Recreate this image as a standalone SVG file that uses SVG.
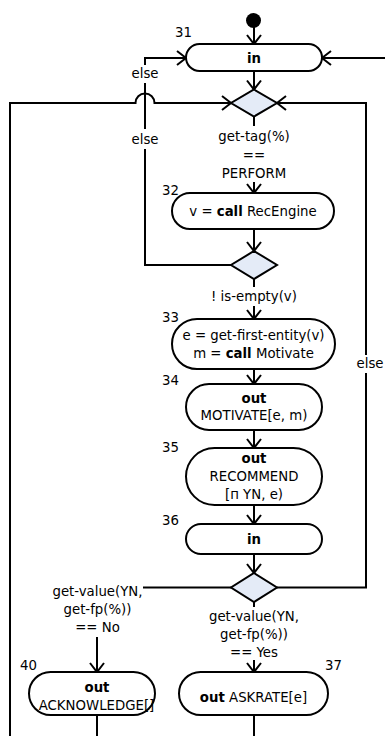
<svg xmlns="http://www.w3.org/2000/svg" width="385" height="736" viewBox="0 0 385 736">
<style>
text{font-family:"DejaVu Sans","Liberation Sans",sans-serif;font-size:13.3px;fill:#000}
.c{text-anchor:middle}
.b{font-weight:bold}
.node{fill:#fff;stroke:#000;stroke-width:2}
.dec{fill:#e4ebf7;stroke:#000;stroke-width:2}
.e{fill:none;stroke:#000;stroke-width:2}
.ea{fill:none;stroke:#000;stroke-width:2;marker-end:url(#arr)}
</style>
<defs>
<marker id="arr" markerUnits="userSpaceOnUse" orient="auto" overflow="visible" markerWidth="20" markerHeight="20" refX="0" refY="0">
<path d="M-9,-7 L0,0 L-9,7" fill="none" stroke="#000" stroke-width="2"/>
</marker>
</defs>
<g id="connectors">
<path class="ea" d="M254,27 V44"/>
<path class="ea" d="M385,58 H322"/>
<path class="ea" d="M254,71 V89.5"/>
<path class="e" d="M254,116.5 V126"/>
<path class="ea" d="M254,182 V193"/>
<path class="ea" d="M254,229 V251"/>
<path class="e" d="M231,265 H145 V149"/>
<path class="e" d="M145,129 V83"/>
<path class="ea" d="M145,65 V58 H186"/>
<path class="ea" d="M10,736 V103 H135.5 A9.5,9.5 0 0 1 154.5,103 H231"/>
<path class="e" d="M277,587.5 H366 V373"/>
<path class="ea" d="M366,355 V103 H277"/>
<path class="e" d="M254,279 V287"/>
<path class="ea" d="M254,306 V319"/>
<path class="ea" d="M254,369 V384"/>
<path class="ea" d="M254,430 V448"/>
<path class="ea" d="M254,505 V524"/>
<path class="ea" d="M254,554 V573"/>
<path class="e" d="M231,587.5 H143"/>
<path class="ea" d="M97,637 V672"/>
<path class="e" d="M254,602 V607"/>
<path class="ea" d="M254,660 V672"/>
<path class="e" d="M97,715 V736"/>
<path class="e" d="M254,715 V736"/>
</g>
<g id="labels">
<text class="c" x="145" y="78">else</text>
<text class="c" x="145" y="144">else</text>
<text class="c" x="370" y="368">else</text>
<text class="c" x="254" y="141">get-tag(%)</text>
<text class="c" x="254" y="159.5">==</text>
<text class="c" x="254" y="178">PERFORM</text>
<text class="c" x="254" y="301">! is-empty(v)</text>
<text class="c" x="97.5" y="596">get-value(YN,</text>
<text class="c" x="97.5" y="614">get-fp(%))</text>
<text class="c" x="97.5" y="632">== No</text>
<text class="c" x="254" y="621">get-value(YN,</text>
<text class="c" x="254" y="639">get-fp(%))</text>
<text class="c" x="254" y="657">== Yes</text>
</g>
<g id="start"><circle cx="253.5" cy="20.5" r="7.5" fill="#000"/></g>
<g id="n31">
<rect class="node" x="186" y="44" width="136" height="27" rx="13.5"/>
<text x="175" y="37">31</text>
<text class="c b" x="254" y="62.5">in</text>
</g>
<g id="d1"><path class="dec" d="M254,89.5 L277,103 L254,116.5 L231,103 Z"/></g>
<g id="n32">
<rect class="node" x="172" y="193" width="162" height="36" rx="18"/>
<text x="162" y="195">32</text>
<text class="c" x="253" y="216">v = <tspan class="b">call</tspan> RecEngine</text>
</g>
<g id="d2"><path class="dec" d="M254,251 L277,265 L254,279 L231,265 Z"/></g>
<g id="n33">
<rect class="node" x="172" y="319" width="163" height="50" rx="25"/>
<text x="162" y="322">33</text>
<text class="c" x="253.5" y="340">e = get-first-entity(v)</text>
<text class="c" x="253.5" y="358">m = <tspan class="b">call</tspan> Motivate</text>
</g>
<g id="n34">
<rect class="node" x="186" y="384" width="136" height="46" rx="23"/>
<text x="162" y="385">34</text>
<text class="c b" x="254" y="403">out</text>
<text class="c" x="254" y="420">MOTIVATE[e, m)</text>
</g>
<g id="n35">
<rect class="node" x="186" y="448" width="136" height="57" rx="28.5"/>
<text x="162" y="452">35</text>
<text class="c b" x="254" y="463">out</text>
<text class="c" x="254" y="481">RECOMMEND</text>
<text class="c" x="254" y="499">[п YN, e)</text>
</g>
<g id="n36">
<rect class="node" x="186" y="524" width="136" height="30" rx="15"/>
<text x="162" y="525">36</text>
<text class="c b" x="254" y="543.5">in</text>
</g>
<g id="d3"><path class="dec" d="M254,573 L277,587.5 L254,602 L231,587.5 Z"/></g>
<g id="n40">
<rect class="node" x="29" y="672" width="126" height="43" rx="21.5"/>
<text x="20" y="670">40</text>
<text class="c b" x="97" y="692">out</text>
<text class="c" x="96.5" y="710">ACKNOWLEDGE[]</text>
</g>
<g id="n37">
<rect class="node" x="179" y="672" width="149" height="43" rx="21.5"/>
<text x="325" y="670">37</text>
<text class="c" x="253.5" y="701.5"><tspan class="b">out</tspan> ASKRATE[e]</text>
</g>
</svg>
